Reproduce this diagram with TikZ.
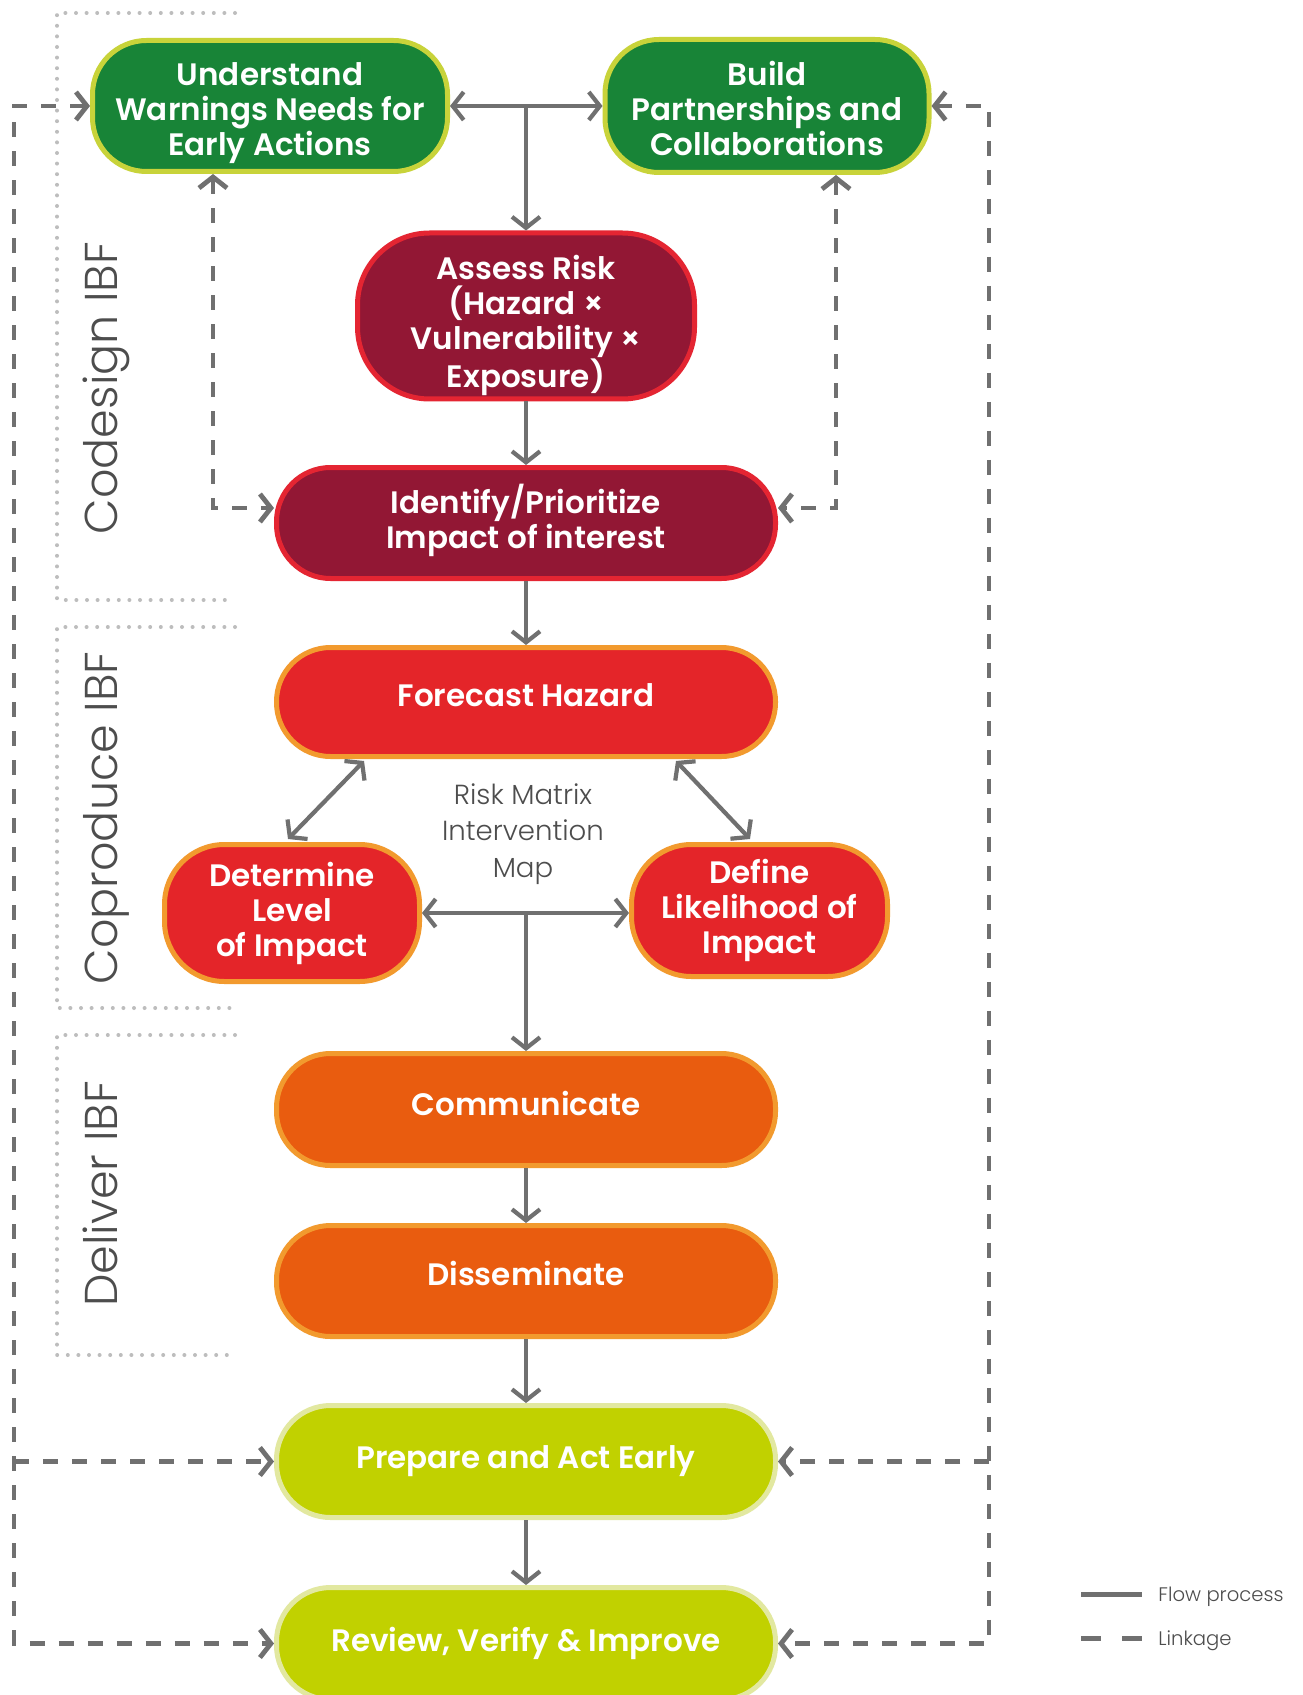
\documentclass[tikz,border=0pt]{standalone}
\usepackage{fontspec}
\usetikzlibrary{arrows.meta,calc}
\newfontfamily\boldf{Poppins SemiBold}
\newfontfamily\lightf{Poppins Light}
\definecolor{cgreen}{HTML}{188437}
\definecolor{cgreenb}{HTML}{C8D33A}
\definecolor{cdred}{HTML}{921734}
\definecolor{cdredb}{HTML}{E42532}
\definecolor{cred}{HTML}{E42529}
\definecolor{credb}{HTML}{F29A2E}
\definecolor{corange}{HTML}{E95C0F}
\definecolor{clime}{HTML}{C1D100}
\definecolor{climeb}{HTML}{E2E8A0}
\definecolor{cgray}{HTML}{707070}
\definecolor{cdot}{HTML}{BDBDBD}
\definecolor{ctext}{HTML}{4D4D4D}
\newcommand\mynodefont{\boldf\fontsize{15.5}{17.5}\selectfont}
\newcommand\topstrut[1]{\rule{0pt}{#1}}
\begin{document}
\begin{tikzpicture}[x=0.5pt,y=-0.5pt,
  >={Straight Barb[length=5.5pt,width=14pt]},
  box/.style={line width=2.5pt, rounded corners=27pt, align=center, text=white, font=\mynodefont, inner sep=0pt, minimum width=249.5pt},
  greenbox/.style={box, fill=cgreen, draw=cgreenb},
  dredbox/.style={box, fill=cdred, draw=cdredb},
  redbox/.style={box, fill=cred, draw=credb},
  orangebox/.style={box, fill=corange, draw=credb},
  limebox/.style={box, fill=clime, draw=climeb},
  flow/.style={draw=cgray, line width=2.1pt},
  link/.style={draw=cgray, line width=2.4pt, dash pattern=on 7.5pt off 7pt},
  dotframe/.style={draw=cdot, line width=2pt, line cap=round, dash pattern=on 0pt off 5.3pt},
  sidelabel/.style={rotate=90, anchor=base, text=ctext, font=\lightf\fontsize{23}{28}\selectfont},
]
\useasboundingbox (0,0) rectangle (1302,1695);
\fill[white] (0,0) rectangle (1302,1695);

% section frames
\draw[dotframe] (235,13) -- (57,13) -- (57,600) -- (235,600);
\draw[dotframe] (235,627) -- (57,627) -- (57,1008) -- (235,1008);
\draw[dotframe] (235,1035) -- (57,1035) -- (57,1355) -- (235,1355);
\node[sidelabel] (t1) at (117,388) {Codesign IBF};
\node[sidelabel] (t2) at (117,818) {Coproduce IBF};
\node[sidelabel] (t3) at (117,1194) {Deliver IBF};

% nodes
\node[greenbox, text depth=0pt, minimum width=177.5pt, minimum height=65.5pt] (U) at (270,106) {\topstrut{14.7pt}Understand\\Warnings Needs for\\Early Actions};
\node[greenbox, minimum width=162pt, minimum height=66.5pt] (B) at (767,106) {\topstrut{14.2pt}Build\\Partnerships and\\Collaborations};
\node[dredbox, text depth=0pt, rounded corners=36pt, minimum width=168.5pt, minimum height=83pt] (A) at (526,316) {\topstrut{17.5pt}Assess Risk\\(Hazard ×\\Vulnerability ×\\Exposure)};
\node[dredbox, text depth=6.8pt, minimum height=55.5pt] (I) at (526,523) {Identify/Prioritize\\Impact of interest};
\node[redbox, text depth=6.5pt, minimum height=54.5pt] (F) at (526,702) {Forecast Hazard};
\node[redbox, rounded corners=30pt, minimum width=127.5pt, minimum height=68.5pt] (D) at (292,913) {Determine\\Level\\of Impact};
\node[redbox, rounded corners=30pt, minimum width=128pt, minimum height=66pt] (L) at (759.5,910.5) {Define\\Likelihood of\\Impact};
\node[orangebox, text depth=6.5pt, minimum height=56pt] (C) at (526,1109.5) {Communicate};
\node[orangebox, text depth=7.5pt, minimum height=55.5pt] (S) at (526,1281) {Disseminate};
\node[limebox, text depth=4.6pt, minimum height=56pt] (P) at (526,1461.5) {Prepare and Act Early};
\node[limebox, minimum height=56pt] (R) at (526,1643.5) {Review, Verify \& Improve};

\node[text=ctext, align=center, font=\lightf\fontsize{13.8}{18.3}\selectfont] (M) at (523,834) {Risk Matrix\\Intervention\\Map};

% flow connectors
\draw[flow, <->] (U.east) -- (B.west);
\draw[flow, ->] (U.east -| A.north) -- (A.north);
\draw[flow, ->] (A.south) -- (I.north);
\draw[flow, ->] (I.south) -- (F.north);
\draw[flow, <->] ($(F.south)+(-162,2)$) -- ($(D.north)+(-4,-3)$);
\draw[flow, <->] ($(F.south)+(150,2)$) -- ($(L.north)+(-9.5,-3)$);
\draw[flow, <->] (D.east) -- (D.east -| L.west);
\draw[flow, ->] (D.east -| C.north) -- (C.north);
\draw[flow, ->] (C.south) -- (S.north);
\draw[flow, ->] (S.south) -- (P.north);
\draw[flow, ->] (P.south) -- (R.north);

% linkage connectors
\coordinate (lx) at (14,106);
\coordinate (rx) at (989,106);
\coordinate (il) at (213,508);
\coordinate (ir) at (836,508);
\draw[link, <->] (U.west) -- (lx) -- (lx |- R.west) -- (R.west);
\draw[link, ->] (lx |- P.west) -- (P.west);
\draw[link, <->] (B.east) -- (rx) -- (rx |- R.east) -- (R.east);
\draw[link, ->] (rx |- P.east) -- (P.east);
\draw[link, <->] (U.south -| il) -- (il) -- (il -| I.west);
\draw[link, <->] (B.south -| ir) -- (ir) -- (ir -| I.east);

% legend
\coordinate (la1) at (1081,1594);
\coordinate (lb1) at (1142,1594);
\coordinate (la2) at (1081,1638);
\coordinate (lb2) at (1142,1638);
\draw[cgray, line width=2.5pt] (la1) -- (lb1);
\draw[cgray, line width=2.5pt, dash pattern=on 10pt off 10.5pt] (la2) -- (lb2);
\node[anchor=base west, inner sep=0pt, text=ctext, font=\lightf\fontsize{9.8}{12}\selectfont] (lt1) at (1158,1601) {Flow process};
\node[anchor=base west, inner sep=0pt, text=ctext, font=\lightf\fontsize{9.8}{12}\selectfont] (lt2) at (1158,1645) {Linkage};
\end{tikzpicture}
\end{document}
